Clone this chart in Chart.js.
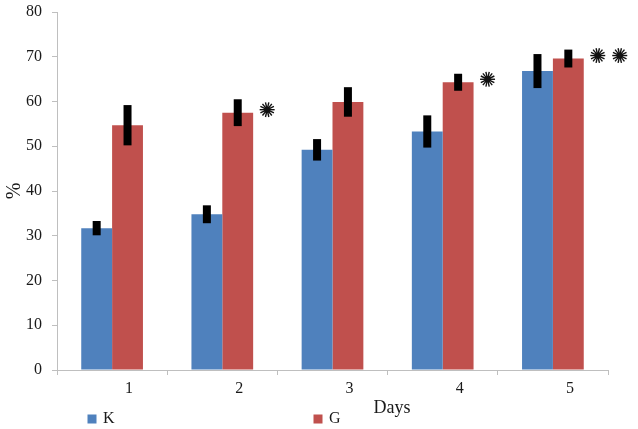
<!DOCTYPE html>
<html>
<head>
<meta charset="utf-8">
<script src="https://cdn.jsdelivr.net/npm/chart.js@4"></script>
<style>
  html, body { margin: 0; padding: 0; background: #fff; }
  #wrap { width: 638px; height: 429px; position: relative; }
</style>
</head>
<body>
<div id="wrap"><canvas id="grafico"></canvas></div>
<script>
// datos
const dias = ['1', '2', '3', '4', '5'];
const valoresK = [31.7, 34.8, 49.2, 53.3, 66.8];
const valoresG = [54.7, 57.5, 59.9, 64.3, 69.6];
const errorK = [1.6, 2.0, 2.4, 3.6, 3.8];
const errorG = [4.5, 3.0, 3.3, 1.9, 2.0];
const signifG = ['', '*', '', '*', '**'];
const ticksY = [0, 10, 20, 30, 40, 50, 60, 70, 80];

const FUENTE = '"Liberation Serif", "Times New Roman", serif';
const AZUL = '#4f81bd';
const ROJO = '#c0504d';
const GRIS = '#bfbfbf';

// barras de error negras y gruesas
const errorBarsPlugin = {
  id: 'errorBars',
  afterDatasetsDraw(chart) {
    const { ctx, scales: { y } } = chart;
    const errores = [errorK, errorG];
    ctx.save();
    ctx.strokeStyle = '#000';
    ctx.lineWidth = 8;
    ctx.lineCap = 'butt';
    chart.data.datasets.forEach((ds, i) => {
      const meta = chart.getDatasetMeta(i);
      meta.data.forEach((bar, j) => {
        const v = ds.data[j];
        const e = errores[i][j];
        ctx.beginPath();
        ctx.moveTo(bar.x, y.getPixelForValue(v + e));
        ctx.lineTo(bar.x, y.getPixelForValue(v - e));
        ctx.stroke();
      });
    });
    ctx.restore();
  }
};

// asteriscos de significancia junto a las barras G
function dibujarEstrella(ctx, cx, cy, r) {
  ctx.save();
  ctx.strokeStyle = '#111';
  ctx.fillStyle = '#111';
  ctx.lineWidth = 1.4;
  for (let k = 0; k < 7; k++) {
    const a = (Math.PI * k) / 7;
    ctx.beginPath();
    ctx.moveTo(cx - r * Math.cos(a), cy - r * Math.sin(a));
    ctx.lineTo(cx + r * Math.cos(a), cy + r * Math.sin(a));
    ctx.stroke();
  }
  ctx.beginPath();
  ctx.arc(cx, cy, r * 0.42, 0, Math.PI * 2);
  ctx.fill();
  ctx.restore();
}

const signifPlugin = {
  id: 'signif',
  afterDatasetsDraw(chart) {
    const { ctx } = chart;
    const meta = chart.getDatasetMeta(1);
    meta.data.forEach((bar, j) => {
      const n = signifG[j].length;
      const xBase = bar.x + bar.width / 2 + 14;
      for (let s = 0; s < n; s++) {
        dibujarEstrella(ctx, xBase + s * 22, bar.y - 3, 7.5);
      }
    });
  }
};

// leyenda abajo a la izquierda y título "Days"
const leyendaPlugin = {
  id: 'leyendaAbajo',
  afterDraw(chart) {
    const { ctx, chartArea: { left } } = chart;
    const posiciones = [left + 35, left + 261];
    ctx.save();
    ctx.font = '16px ' + FUENTE;
    ctx.textBaseline = 'middle';
    ctx.textAlign = 'left';
    chart.data.datasets.forEach((ds, i) => {
      const x = posiciones[i];
      ctx.fillStyle = ds.backgroundColor;
      ctx.fillRect(x - 4.5, 414.5, 9, 9);
      ctx.fillStyle = '#1a1a1a';
      ctx.fillText(ds.label, x + 11, 419);
    });
    ctx.font = '18px ' + FUENTE;
    ctx.textAlign = 'center';
    ctx.fillText('Days', left + 335, 408);
    ctx.restore();
  }
};

const ctx = document.getElementById('grafico').getContext('2d');
new Chart(ctx, {
  type: 'bar',
  data: {
    labels: dias,
    datasets: [
      { label: 'K', data: valoresK, backgroundColor: AZUL, borderWidth: 0 },
      { label: 'G', data: valoresG, backgroundColor: ROJO, borderWidth: 0 }
    ]
  },
  options: {
    responsive: true,
    maintainAspectRatio: false,
    animation: false,
    categoryPercentage: 0.56,
    barPercentage: 1.0,
    layout: { padding: { top: 12, right: 30, left: 0, bottom: 0 } },
    scales: {
      x: {
        grid: { display: true, drawOnChartArea: false, drawTicks: true, tickLength: 5, color: GRIS },
        border: { display: true, color: GRIS, width: 1 },
        ticks: { font: { family: FUENTE, size: 16 }, color: '#1a1a1a', padding: 4, labelOffset: 17, maxRotation: 0 },
        afterFit: (scale) => { scale.height = 59; }
      },
      y: {
        min: 0,
        max: 80,
        afterBuildTicks: (scale) => { scale.ticks = ticksY.map(v => ({ value: v })); },
        grid: { display: true, drawOnChartArea: false, drawTicks: true, tickLength: 5, color: GRIS },
        border: { display: true, color: GRIS, width: 1 },
        ticks: { font: { family: FUENTE, size: 16 }, color: '#1a1a1a', padding: 10 },
        title: { display: true, text: '%', font: { family: FUENTE, size: 20 }, color: '#1a1a1a', padding: { top: 3, bottom: 0 } },
        afterFit: (scale) => {
          scale.width = 57;
          scale.paddingTop = 0;
          scale.paddingBottom = 0;
        }
      }
    },
    plugins: {
      legend: { display: false },
      tooltip: { enabled: false }
    }
  },
  plugins: [errorBarsPlugin, signifPlugin, leyendaPlugin]
});
</script>
</body>
</html>
